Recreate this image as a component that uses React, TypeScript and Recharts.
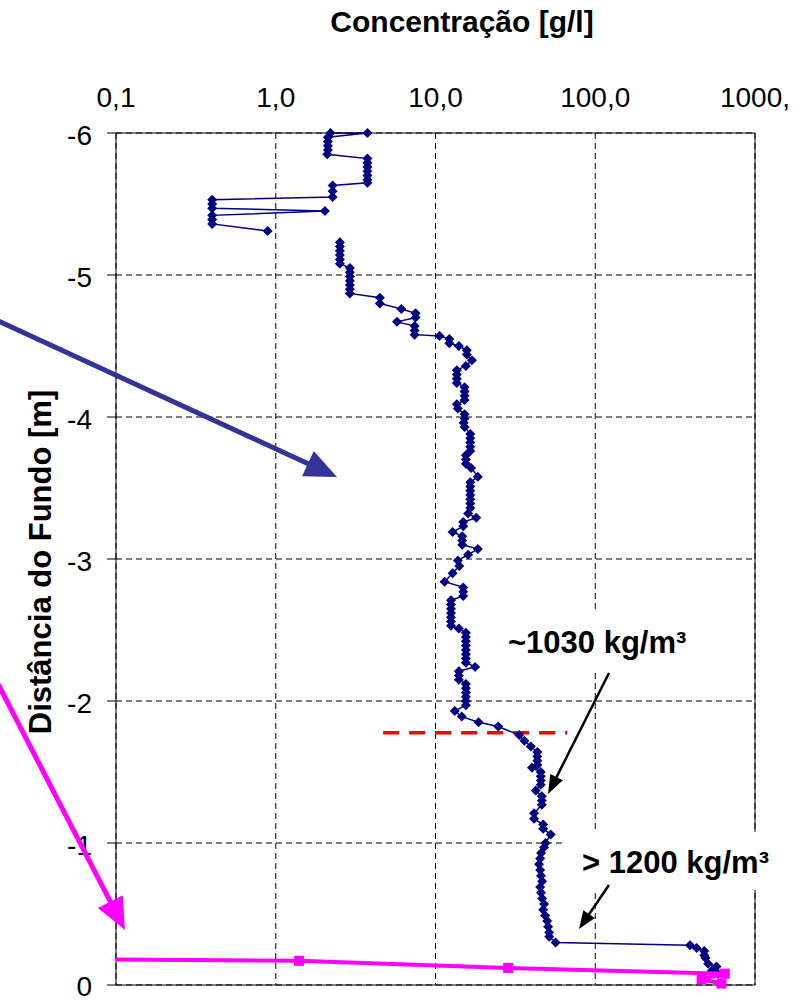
import React from 'react';
import { ScatterChart, Scatter, XAxis, YAxis, CartesianGrid, ReferenceLine } from 'recharts';

// Concentration profile (upper part, before the gap)
const upperConc = [2.2, 3.75, 2.12, 2.12, 2.12, 2.12, 2.1, 3.75, 3.75, 3.75, 3.75, 3.75, 3.75, 3.75, 2.27, 2.27, 2.27, 0.4, 0.4, 0.4, 2.03, 0.4, 0.4, 0.4, 0.89];
const upperDepth = [-6.0, -6.0, -5.97, -5.94, -5.91, -5.88, -5.85, -5.82, -5.79, -5.76, -5.73, -5.7, -5.67, -5.65, -5.63, -5.59, -5.55, -5.53, -5.5, -5.47, -5.45, -5.42, -5.39, -5.36, -5.31];

// Concentration profile (lower part)
const lowerConc = [
  2.52, 2.52, 2.52, 2.52, 2.52, 2.52, 2.91, 2.91, 2.91, 2.91, 2.91, 2.91, 2.91, 4.48, 4.48, 6.11, 7.5, 7.5, 5.74, 7.4,
  7.4, 7.4, 10.6, 12.2, 12.2, 14.0, 15.7, 15.7, 16.9, 15.5, 13.6, 13.6, 13.6, 13.6, 15.2, 15.2, 15.2, 15.2, 13.6, 13.8,
  15.2, 15.2, 15.0, 15.2, 16.5, 16.5, 16.5, 16.5, 16.5, 15.5, 15.5, 15.5, 16.7, 18.4, 16.5, 16.5, 16.5, 16.5, 16.5, 16.5,
  16.5, 16.0, 18.0, 14.9, 14.9, 12.8, 14.7, 14.7, 14.7, 18.4, 16.0, 13.8, 14.1, 12.8, 11.4, 14.9, 14.9, 14.9, 12.5, 12.5,
  12.5, 12.5, 12.5, 12.5, 12.5, 14.0, 15.5, 15.5, 15.5, 15.5, 15.5, 15.5, 15.5, 15.5, 17.7, 14.0, 14.0, 14.0, 15.5, 15.5,
  15.5, 15.5, 15.5, 15.5, 13.2, 14.6, 18.6, 24.7, 33.4, 36, 39.5, 43.4, 43.4, 43.4, 43.4, 40.2, 45.6, 45.6, 45.6, 45.6,
  42.4, 46.3, 46.3, 46.3, 41.4, 41.4, 47.2, 47.2, 52.6, 48.8, 47.8, 45.8, 45.2, 44.5, 45.2, 45.8, 46.5, 45.2, 45.8, 46.5,
  47.8, 47.2, 48.5, 50.0, 50.7, 51.5, 51.5, 56.5, 392, 431, 481, 481, 490, 509, 574, 537, 588,
];
const lowerDepth = [
  -5.23, -5.2, -5.17, -5.14, -5.11, -5.08, -5.05, -5.02, -4.99, -4.96, -4.93, -4.9, -4.87, -4.84, -4.8, -4.76, -4.73, -4.7, -4.67, -4.64,
  -4.61, -4.58, -4.57, -4.55, -4.52, -4.5, -4.47, -4.44, -4.4, -4.36, -4.33, -4.3, -4.27, -4.24, -4.21, -4.18, -4.15, -4.12, -4.09, -4.06,
  -4.02, -3.99, -3.96, -3.93, -3.88, -3.85, -3.82, -3.79, -3.76, -3.73, -3.7, -3.67, -3.64, -3.58, -3.54, -3.51, -3.48, -3.45, -3.42, -3.39,
  -3.36, -3.32, -3.29, -3.26, -3.23, -3.19, -3.16, -3.13, -3.1, -3.07, -3.03, -2.99, -2.95, -2.9, -2.84, -2.8, -2.77, -2.74, -2.71, -2.68,
  -2.65, -2.62, -2.59, -2.56, -2.53, -2.51, -2.48, -2.45, -2.42, -2.39, -2.36, -2.33, -2.3, -2.27, -2.24, -2.21, -2.18, -2.15, -2.12, -2.09,
  -2.06, -2.03, -2.0, -1.97, -1.93, -1.89, -1.85, -1.82, -1.76, -1.72, -1.68, -1.64, -1.61, -1.58, -1.55, -1.53, -1.5, -1.47, -1.44, -1.41,
  -1.37, -1.33, -1.3, -1.27, -1.21, -1.17, -1.13, -1.1, -1.06, -1.0, -0.97, -0.93, -0.89, -0.85, -0.81, -0.77, -0.73, -0.69, -0.65, -0.61,
  -0.57, -0.53, -0.49, -0.45, -0.41, -0.37, -0.34, -0.3, -0.28, -0.26, -0.24, -0.21, -0.19, -0.15, -0.13, -0.1, -0.08,
];

// Second (magenta) profile
const pinkConc = [0.1, 1.4, 28.5, 647, 463, 617];
const pinkDepth = [-0.18, -0.17, -0.12, -0.08, -0.04, -0.01];
const pinkMarker = [false, true, true, true, true, true];

// Interface marker (red dashed)
const interfaceDepth = -1.776;
const interfaceFrom = 4.7;
const interfaceTo = 66.7;

const xTickValues = [0.1, 1, 10, 100, 1000];
const xTickLabels = ['0,1', '1,0', '10,0', '100,0', '1000,'];
const yTickValues = [-6, -5, -4, -3, -2, -1, 0];

const upperData = upperConc.map((x, i) => ({ x, y: upperDepth[i] }));
const lowerData = lowerConc.map((x, i) => ({ x, y: lowerDepth[i] }));
const pinkData = pinkConc.map((x, i) => ({ x, y: pinkDepth[i], m: pinkMarker[i] }));

const FONT = "'Liberation Sans', Arial, sans-serif";
const NAVY = '#000080';
const PINK = '#FF00FF';

const Diamond = (p: any) => {
  const { cx, cy } = p;
  if (cx == null || cy == null) return <g />;
  const r = 5;
  return <polygon points={`${cx},${cy - r} ${cx + r},${cy} ${cx},${cy + r} ${cx - r},${cy}`} fill={NAVY} />;
};

const Square = (p: any) => {
  const { cx, cy, payload } = p;
  if (cx == null || cy == null || !payload || !payload.m) return <g />;
  return <rect x={cx - 5} y={cy - 5} width={10} height={10} fill={PINK} />;
};

function Arrow({ x1, y1, x2, y2, color, width, headLen, headHalf }: any) {
  const dx = x2 - x1;
  const dy = y2 - y1;
  const len = Math.sqrt(dx * dx + dy * dy);
  const ux = dx / len;
  const uy = dy / len;
  const bx = x2 - ux * headLen;
  const by = y2 - uy * headLen;
  const px = -uy;
  const py = ux;
  const pts = `${x2},${y2} ${bx + px * headHalf},${by + py * headHalf} ${bx - px * headHalf},${by - py * headHalf}`;
  return (
    <g>
      <line x1={x1} y1={y1} x2={bx + ux * 2} y2={by + uy * 2} stroke={color} strokeWidth={width} />
      <polygon points={pts} fill={color} />
    </g>
  );
}

export default function App() {
  return (
    <div style={{ position: 'absolute', left: 0, top: 0, width: 803, height: 1000, background: '#fff' }}>
      <ScatterChart width={803} height={1000} margin={{ top: 0, right: 48, bottom: 15, left: 0 }}>
        <CartesianGrid stroke="#000" strokeDasharray="6 4" strokeWidth={1} />
        <XAxis
          type="number"
          dataKey="x"
          scale="log"
          domain={[0.1, 1000]}
          ticks={xTickValues}
          orientation="top"
          height={133}
          axisLine={{ stroke: '#000', strokeWidth: 1 }}
          tickLine={false}
          tickSize={0}
          tickMargin={26}
          tick={{ fontSize: 28, fill: '#000', fontFamily: FONT }}
          tickFormatter={(v: number) => xTickLabels[xTickValues.indexOf(v)] ?? String(v)}
        />
        <YAxis
          type="number"
          dataKey="y"
          domain={[-6, 0]}
          reversed
          ticks={yTickValues}
          width={116}
          axisLine={{ stroke: '#000', strokeWidth: 1 }}
          tickLine={{ stroke: '#000', strokeWidth: 1 }}
          tickSize={9}
          tickMargin={15}
          tick={{ fontSize: 28, fill: '#000', fontFamily: FONT, dy: 2 }}
        />
        <ReferenceLine x={1000} stroke="#000" strokeWidth={1} />
        <ReferenceLine y={0} stroke="#000" strokeWidth={1} />
        <ReferenceLine
          segment={[{ x: interfaceFrom, y: interfaceDepth }, { x: interfaceTo, y: interfaceDepth }]}
          stroke="#FF0000"
          strokeWidth={3.5}
          strokeDasharray="16 10"
        />
        <Scatter
          data={upperData}
          line={{ stroke: NAVY, strokeWidth: 1.5 }}
          lineType="joint"
          shape={Diamond}
          fill={NAVY}
          isAnimationActive={false}
        />
        <Scatter
          data={lowerData}
          line={{ stroke: NAVY, strokeWidth: 1.5 }}
          lineType="joint"
          shape={Diamond}
          fill={NAVY}
          isAnimationActive={false}
        />
        <Scatter
          data={pinkData}
          line={{ stroke: PINK, strokeWidth: 4 }}
          lineType="joint"
          shape={Square}
          fill={PINK}
          isAnimationActive={false}
        />
      </ScatterChart>
      <svg
        width={803}
        height={1000}
        style={{ position: 'absolute', left: 0, top: 0, pointerEvents: 'none' }}
      >
        <text x={462} y={32} textAnchor="middle" fontFamily={FONT} fontWeight="bold" fontSize={30} fill="#000">
          Concentração [g/l]
        </text>
        <text
          transform="translate(51,562) rotate(-90)"
          textAnchor="middle"
          fontFamily={FONT}
          fontWeight="bold"
          fontSize={31}
          fill="#000"
        >
          Distância do Fundo [m]
        </text>
        <rect x={500} y={612} width={200} height={58} fill="#fff" />
        <text x={508} y={653} fontFamily={FONT} fontWeight="bold" fontSize={31} fill="#000">
          ~1030 kg/m³
        </text>
        <rect x={562} y={832} width={236} height={58} fill="#fff" />
        <text x={582} y={873} fontFamily={FONT} fontWeight="bold" fontSize={31} fill="#000">
          {'> 1200 kg/m³'}
        </text>
        <Arrow x1={609} y1={673} x2={548} y2={794} color="#000" width={2.5} headLen={19} headHalf={7} />
        <Arrow x1={609} y1={885} x2={579} y2={929} color="#000" width={2.5} headLen={18} headHalf={7} />
        <Arrow x1={-4} y1={320} x2={337} y2={477} color="#333399" width={5} headLen={32} headHalf={14} />
        <Arrow x1={-2} y1={684} x2={125} y2={930} color={PINK} width={5} headLen={32} headHalf={14} />
      </svg>
    </div>
  );
}
